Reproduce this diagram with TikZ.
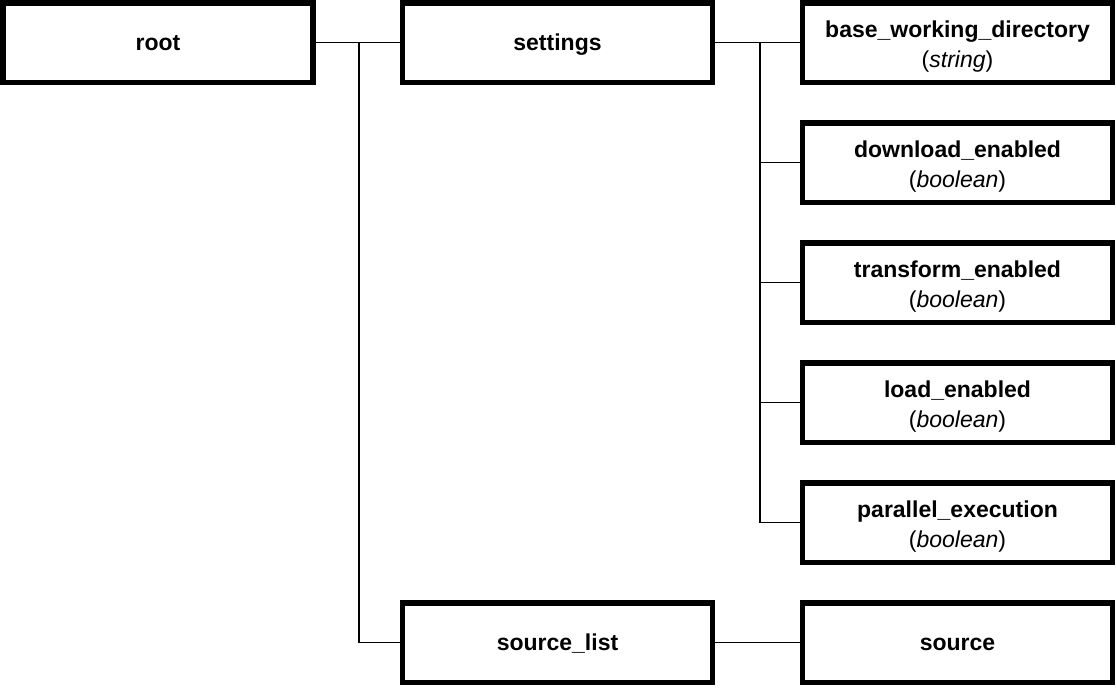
\documentclass[tikz,border=0pt]{standalone}
\usepackage{fontspec}
\setmainfont{Liberation Sans}
\newcommand{\onepad}{\rule[-5pt]{0pt}{26pt}}
\newcommand{\twopad}{\rule{0pt}{25pt}}
\begin{document}
\begin{tikzpicture}[x=1pt,y=-1pt,
  box/.style={draw=black,fill=white,line width=5.5pt,minimum width=310pt,minimum height=79.5pt,
    inner sep=0pt,align=center,font=\fontsize{23}{29.5}\selectfont},
  conn/.style={draw=black,line width=1.5pt}]
\useasboundingbox (0,0) rectangle (1116,688);
\node[box] (root) at (158,42.5) {\onepad\textbf{root}};
\node[box] (settings) at (557.5,42.5) {\onepad\textbf{settings}};
\node[box] (bwd) at (957.5,42.5) {\twopad\textbf{base\_working\_directory}\\(\textit{string})};
\node[box] (dl) at (957.5,162.5) {\twopad\textbf{download\_enabled}\\(\textit{boolean})};
\node[box] (tr) at (957.5,282.5) {\twopad\textbf{transform\_enabled}\\(\textit{boolean})};
\node[box] (ld) at (957.5,402.5) {\twopad\textbf{load\_enabled}\\(\textit{boolean})};
\node[box] (pe) at (957.5,522.5) {\twopad\textbf{parallel\_execution}\\(\textit{boolean})};
\node[box] (sl) at (557.5,642.5) {\onepad\textbf{source\_list}};
\node[box] (src) at (957.5,642.5) {\onepad\textbf{source}};
\coordinate (j1) at (359,42.5);
\coordinate (j2) at (760,42.5);
\draw[conn] (root.east) -- (settings.west);
\draw[conn] (j1) |- (sl.west);
\draw[conn] (settings.east) -- (bwd.west);
\draw[conn] (j2) |- (dl.west);
\draw[conn] (j2) |- (tr.west);
\draw[conn] (j2) |- (ld.west);
\draw[conn] (j2) |- (pe.west);
\draw[conn] (sl.east) -- (src.west);
\end{tikzpicture}
\end{document}
